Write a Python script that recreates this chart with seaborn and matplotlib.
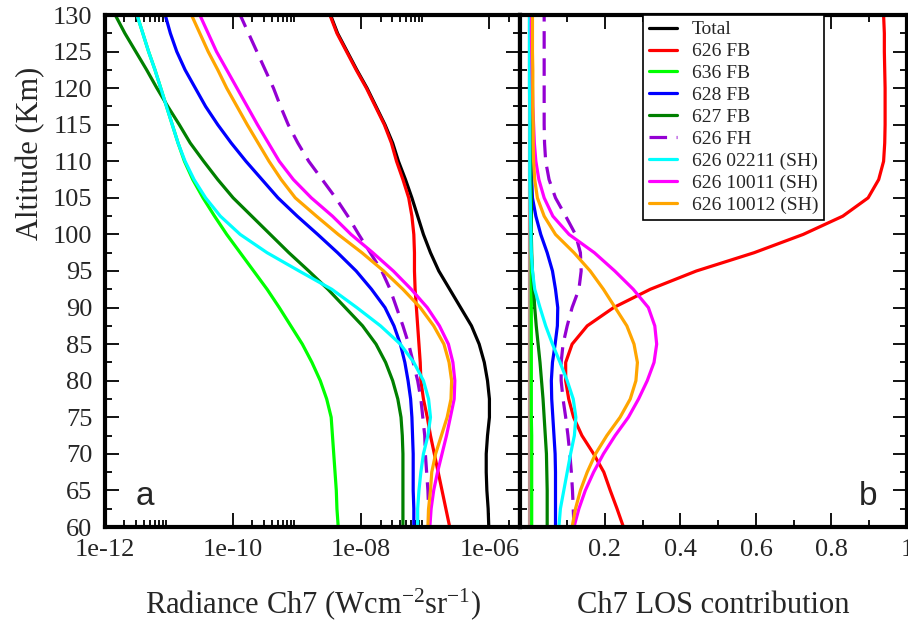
import matplotlib
matplotlib.use("Agg")
import matplotlib.pyplot as plt
import seaborn as sns
import numpy as np
import pandas as pd
from matplotlib.ticker import FixedLocator, FixedFormatter, NullFormatter

# altitude grid (km), top to bottom
altitude = [130, 127.5, 125, 122.5, 120, 117.5, 115, 112.5, 110, 107.5, 105, 102.5,
            100, 97.5, 95, 92.5, 90, 87.5, 85, 82.5, 80, 77.5, 75, 72.5, 70, 67.5,
            65, 62.5, 60]

series_names = ["Total", "626 FB", "636 FB", "628 FB", "627 FB", "626 FH",
                "626 02211 (SH)", "626 10011 (SH)", "626 10012 (SH)"]
series_colors = ["#000000", "#ff0000", "#00ff00", "#0000ff", "#008000", "#9400d3",
                 "#00ffff", "#ff00ff", "#ffa500"]

# panel a: log10 of radiance Ch7 (W cm-2 sr-1)
log_rad_total = [-8.48, -8.37, -8.22, -8.07, -7.91, -7.77, -7.63, -7.51, -7.42, -7.31,
                 -7.21, -7.12, -7.03, -6.92, -6.79, -6.62, -6.45, -6.28, -6.16, -6.08,
                 -6.03, -6.00, -6.00, -6.03, -6.05, -6.05, -6.04, -6.02, -6.01]
log_rad_626fb = [-8.49, -8.38, -8.23, -8.08, -7.92, -7.78, -7.64, -7.53, -7.45, -7.35,
                 -7.26, -7.21, -7.18, -7.17, -7.17, -7.16, -7.14, -7.12, -7.10, -7.08,
                 -7.07, -7.03, -6.97, -6.92, -6.86, -6.80, -6.74, -6.68, -6.62]
log_rad_636fb = [-11.50, -11.41, -11.32, -11.22, -11.13, -11.04, -10.95, -10.86, -10.76,
                 -10.63, -10.47, -10.29, -10.10, -9.89, -9.68, -9.47, -9.28, -9.10, -8.92,
                 -8.77, -8.64, -8.54, -8.47, -8.45, -8.43, -8.41, -8.39, -8.38, -8.36]
log_rad_628fb = [-11.06, -10.98, -10.88, -10.75, -10.59, -10.43, -10.24, -10.03, -9.80,
                 -9.55, -9.30, -9.00, -8.68, -8.37, -8.08, -7.84, -7.63, -7.49, -7.39,
                 -7.32, -7.27, -7.23, -7.21, -7.20, -7.19, -7.19, -7.19, -7.18, -7.18]
log_rad_627fb = [-11.84, -11.69, -11.52, -11.35, -11.19, -11.02, -10.84, -10.67, -10.46,
                 -10.24, -10.00, -9.71, -9.42, -9.13, -8.82, -8.52, -8.25, -7.98, -7.77,
                 -7.62, -7.51, -7.43, -7.38, -7.36, -7.35, -7.35, -7.35, -7.35, -7.35]
log_rad_626fh = [-9.89, -9.76, -9.63, -9.50, -9.37, -9.26, -9.14, -8.99, -8.82, -8.61,
                 -8.40, -8.21, -8.04, -7.86, -7.68, -7.55, -7.45, -7.35, -7.26, -7.19,
                 -7.12, -7.07, -7.04, -7.01, -7.00, -6.98, -6.96, -6.95, -6.95]
log_rad_02211 = [-11.50, -11.41, -11.32, -11.22, -11.13, -11.04, -10.95, -10.86, -10.75,
                 -10.61, -10.43, -10.20, -9.89, -9.47, -8.97, -8.46, -8.07, -7.70, -7.39,
                 -7.18, -7.03, -6.95, -6.92, -6.96, -7.03, -7.07, -7.10, -7.12, -7.12]
log_rad_10011 = [-10.52, -10.39, -10.26, -10.10, -9.94, -9.78, -9.62, -9.45, -9.28, -9.06,
                 -8.78, -8.45, -8.16, -7.82, -7.50, -7.22, -6.97, -6.78, -6.64, -6.57,
                 -6.54, -6.55, -6.61, -6.67, -6.74, -6.81, -6.87, -6.91, -6.93]
log_rad_10012 = [-10.65, -10.52, -10.39, -10.24, -10.10, -9.94, -9.78, -9.61, -9.44, -9.25,
                 -9.03, -8.70, -8.36, -7.99, -7.65, -7.35, -7.08, -6.87, -6.71, -6.63,
                 -6.59, -6.60, -6.66, -6.75, -6.84, -6.90, -6.92, -6.95, -6.96]

# panel b: LOS contribution
los_626fb = [0.938, 0.940, 0.940, 0.941, 0.942, 0.942, 0.942, 0.941, 0.938, 0.925,
             0.897, 0.830, 0.725, 0.595, 0.442, 0.320, 0.223, 0.153, 0.113, 0.096,
             0.096, 0.104, 0.117, 0.139, 0.170, 0.197, 0.214, 0.232, 0.249]
los_636fb = [0.005, 0.005, 0.005, 0.005, 0.005, 0.005, 0.005, 0.005, 0.005, 0.005,
             0.005, 0.005, 0.005, 0.005, 0.005, 0.005, 0.005, 0.005, 0.005, 0.005,
             0.005, 0.005, 0.005, 0.006, 0.006, 0.006, 0.006, 0.006, 0.006]
los_628fb = [0.004, 0.004, 0.004, 0.004, 0.004, 0.004, 0.004, 0.005, 0.005, 0.006,
             0.008, 0.017, 0.030, 0.047, 0.061, 0.069, 0.075, 0.074, 0.068, 0.061,
             0.058, 0.059, 0.062, 0.065, 0.068, 0.069, 0.069, 0.069, 0.069]
los_627fb = [0.004, 0.004, 0.004, 0.004, 0.004, 0.004, 0.004, 0.004, 0.004, 0.004,
             0.005, 0.005, 0.005, 0.006, 0.008, 0.011, 0.014, 0.018, 0.023, 0.028,
             0.032, 0.036, 0.039, 0.042, 0.045, 0.046, 0.047, 0.047, 0.047]
los_626fh = [0.039, 0.039, 0.039, 0.039, 0.039, 0.039, 0.039, 0.040, 0.043, 0.052,
             0.069, 0.096, 0.122, 0.135, 0.137, 0.131, 0.113, 0.100, 0.089, 0.084,
             0.084, 0.089, 0.096, 0.102, 0.107, 0.111, 0.114, 0.116, 0.118]
los_02211 = [0.000, 0.000, 0.000, 0.000, 0.000, 0.001, 0.001, 0.001, 0.001, 0.001,
             0.002, 0.003, 0.004, 0.005, 0.008, 0.014, 0.028, 0.043, 0.061, 0.081,
             0.100, 0.116, 0.123, 0.119, 0.109, 0.100, 0.091, 0.082, 0.078]
los_10011 = [0.005, 0.005, 0.006, 0.007, 0.008, 0.009, 0.011, 0.013, 0.017, 0.025,
             0.039, 0.062, 0.105, 0.172, 0.226, 0.275, 0.315, 0.332, 0.337, 0.330,
             0.312, 0.289, 0.262, 0.227, 0.196, 0.170, 0.148, 0.131, 0.118]
los_10012 = [0.008, 0.008, 0.008, 0.009, 0.009, 0.009, 0.010, 0.010, 0.011, 0.014,
             0.021, 0.039, 0.069, 0.118, 0.161, 0.196, 0.227, 0.258, 0.277, 0.286,
             0.282, 0.267, 0.240, 0.205, 0.175, 0.153, 0.135, 0.122, 0.113]
los_other = [0.0, 0.0, 0.0, 0.0, 0.0, 0.0, 0.0, 0.0, 0.0, 0.0, 0.0, 0.0, 0.0, 0.0, 0.0,
             0.0, 0.0, 0.0, 0.0, 0.0, 0.0, 0.0, 0.0, 0.0, 0.0, 0.0, 0.0, 0.0, 0.0]

rad_ticks = [1e-12, 1e-10, 1e-8, 1e-6]
rad_tick_labels = ["1e-12", "1e-10", "1e-08", "1e-06"]
los_ticks = [0.0, 0.2, 0.4, 0.6, 0.8, 1.0]
los_tick_labels = ["", "0.2", "0.4", "0.6", "0.8", "1"]
alt_ticks = [60, 65, 70, 75, 80, 85, 90, 95, 100, 105, 110, 115, 120, 125, 130]


def style_axis(ax):
    for s in ax.spines.values():
        s.set_linewidth(3.0)
        s.set_color("black")
    ax.tick_params(which="both", direction="in", top=True, right=True,
                   bottom=True, left=True, width=1.3, color="black", pad=9,
                   labelsize=19)
    ax.tick_params(which="major", length=10)
    ax.tick_params(which="minor", length=5)
    ax.yaxis.set_major_locator(FixedLocator(alt_ticks))
    ax.yaxis.set_minor_locator(FixedLocator(np.arange(62.5, 130, 5)))
    ax.set_ylim(60, 130)


def main():
    sns.set_style("white")
    plt.rcParams["font.family"] = ["Liberation Serif", "DejaVu Serif"]
    plt.rcParams["mathtext.fontset"] = "custom"
    plt.rcParams["mathtext.rm"] = "Liberation Serif"
    plt.rcParams["mathtext.it"] = "Liberation Serif"

    rad = pd.DataFrame({"altitude": altitude})
    for name, vals in zip(series_names, [log_rad_total, log_rad_626fb, log_rad_636fb,
                                         log_rad_628fb, log_rad_627fb, log_rad_626fh,
                                         log_rad_02211, log_rad_10011, log_rad_10012]):
        rad[name] = np.power(10.0, vals)

    los = pd.DataFrame({"altitude": altitude, "other": los_other})
    for name, vals in zip(series_names[1:], [los_626fb, los_636fb, los_628fb, los_627fb,
                                             los_626fh, los_02211, los_10011, los_10012]):
        los[name] = vals

    fig = plt.figure(figsize=(9.08, 6.22), dpi=100)
    ax_a = fig.add_axes([105 / 908, 95 / 622, 415 / 908, 512 / 622])
    ax_b = fig.add_axes([520 / 908, 95 / 622, 387 / 908, 512 / 622])

    for name, color in zip(series_names, series_colors):
        ls = (0, (5.5, 3)) if name == "626 FH" else "-"
        sns.lineplot(data=rad, x=name, y="altitude", orient="y", estimator=None,
                     color=color, linewidth=2.3, linestyle=ls, label=name,
                     legend=False, ax=ax_a)

    sns.lineplot(data=los, x="other", y="altitude", orient="y", estimator=None,
                 color="#bc8f8f", linewidth=2.3, legend=False, ax=ax_b)
    for name, color in zip(series_names[1:], series_colors[1:]):
        ls = (0, (5.5, 3)) if name == "626 FH" else "-"
        sns.lineplot(data=los, x=name, y="altitude", orient="y", estimator=None,
                     color=color, linewidth=2.3, linestyle=ls, legend=False, ax=ax_b)

    # panel a axes
    ax_a.set_xscale("log")
    ax_a.set_xlim(1e-12, 3e-6)
    style_axis(ax_a)
    ax_a.xaxis.set_major_locator(FixedLocator(rad_ticks))
    ax_a.xaxis.set_major_formatter(FixedFormatter(rad_tick_labels))
    minor = [m * t for t in rad_ticks for m in range(2, 10) if m * t < 3e-6]
    ax_a.xaxis.set_minor_locator(FixedLocator(minor))
    ax_a.xaxis.set_minor_formatter(NullFormatter())
    ax_a.set_xlabel(r"Radiance Ch7 (Wcm$^{-2}$sr$^{-1}$)", fontsize=22)
    ax_a.xaxis.set_label_coords(0.5, -0.115)
    ax_a.set_ylabel("Altitude (Km)", fontsize=22)
    ax_a.yaxis.set_label_coords(-0.145, 0.73)
    ax_a.text(0.096, 0.043, "a", transform=ax_a.transAxes, ha="center",
              va="baseline", fontsize=24, family="Liberation Sans")

    # panel b axes
    ax_b.set_xlim(-0.025, 1.0)
    style_axis(ax_b)
    ax_b.xaxis.set_major_locator(FixedLocator(los_ticks))
    ax_b.xaxis.set_major_formatter(FixedFormatter(los_tick_labels))
    ax_b.xaxis.set_minor_locator(FixedLocator([0.1, 0.3, 0.5, 0.7, 0.9]))
    ax_b.set_yticklabels([])
    ax_b.set_ylabel("")
    ax_b.set_xlabel("Ch7 LOS contribution", fontsize=22)
    ax_b.xaxis.set_label_coords(0.5, -0.125)
    ax_b.text(0.899, 0.043, "b", transform=ax_b.transAxes, ha="center",
              va="baseline", fontsize=24, family="Liberation Sans")

    handles, labels = ax_a.get_legend_handles_labels()
    leg = ax_b.legend(handles, labels, loc="upper left", bbox_to_anchor=(0.318, 1.0),
                      borderaxespad=0, fontsize=14, frameon=True, fancybox=False,
                      framealpha=1, edgecolor="black", handlelength=1.45,
                      handletextpad=0.75, labelspacing=0.22, borderpad=0.3)
    leg.get_frame().set_linewidth(1.2)
    leg.set_zorder(5)

    fig.savefig("out.png", dpi=100)
    plt.close(fig)


if __name__ == "__main__":
    main()
